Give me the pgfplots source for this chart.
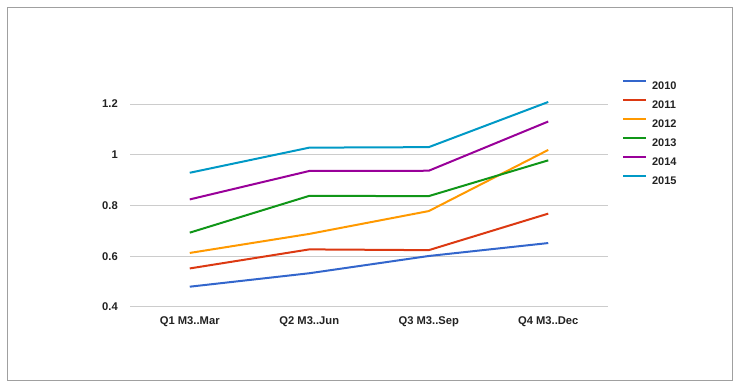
\documentclass[border=0pt]{standalone}
\usepackage{pgfplots}
\pgfplotsset{compat=1.18}
\usepackage{fontspec}
\setmainfont{Liberation Sans}
\definecolor{cA}{HTML}{3366CC}
\definecolor{cB}{HTML}{DC3912}
\definecolor{cC}{HTML}{FF9900}
\definecolor{cD}{HTML}{109618}
\definecolor{cE}{HTML}{990099}
\definecolor{cF}{HTML}{0099C6}
\definecolor{gridc}{HTML}{CCCCCC}
\definecolor{framec}{HTML}{A0A0A0}
\definecolor{txt}{HTML}{222222}
\begin{document}
\begin{tikzpicture}[x=1pt,y=1pt]
\path[use as bounding box] (0,0) rectangle (740,388);
\draw[framec, line width=1pt] (7.5,7.5) rectangle (732.5,380.5);
\begin{axis}[
  at={(130pt,81pt)}, anchor=south west,
  scale only axis, width=478pt, height=203pt,
  xmin=-0.5, xmax=3.5, ymin=0.4, ymax=1.2,
  clip=false,
  xtick={0,1,2,3},
  xticklabels={Q1 M3..Mar, Q2 M3..Jun, Q3 M3..Sep, Q4 M3..Dec},
  ytick={0.4,0.6,0.8,1,1.2},
  /pgf/number format/assume math mode=true,
  /pgf/number format/fixed,
  ymajorgrids, grid style={gridc, line width=1pt},
  axis line style={draw=none}, major tick length=0pt,
  tick label style={font=\bfseries\fontsize{11.2}{13}\selectfont, text=txt},
  yticklabel style={inner sep=0pt, anchor=east, xshift=-12pt},
  xticklabel style={inner sep=0pt, anchor=north, yshift=-9pt},
  legend style={at={(1.029,1.118)}, anchor=north west, draw=none, fill=none,
    inner sep=0pt, column sep=5pt, row sep=10pt,
    nodes={inner sep=0pt, text height=8pt, text depth=0pt, font=\bfseries\fontsize{11}{13}\selectfont, text=txt}},
  legend cell align=left,
  legend image code/.code={\draw[#1] (0pt,4pt) -- (23pt,4pt);},
  every axis plot/.append style={line width=2pt, line join=round},
]
\addplot[cA] coordinates {(0,0.480) (1,0.533) (2,0.601) (3,0.652)};
\addlegendentry{2010}
\addplot[cB] coordinates {(0,0.552) (1,0.627) (2,0.624) (3,0.768)};
\addlegendentry{2011}
\addplot[cC] coordinates {(0,0.613) (1,0.688) (2,0.778) (3,1.019)};
\addlegendentry{2012}
\addplot[cD] coordinates {(0,0.693) (1,0.838) (2,0.837) (3,0.978)};
\addlegendentry{2013}
\addplot[cE] coordinates {(0,0.824) (1,0.936) (2,0.937) (3,1.131)};
\addlegendentry{2014}
\addplot[cF] coordinates {(0,0.929) (1,1.028) (2,1.030) (3,1.208)};
\addlegendentry{2015}
\end{axis}
\end{tikzpicture}
\end{document}
